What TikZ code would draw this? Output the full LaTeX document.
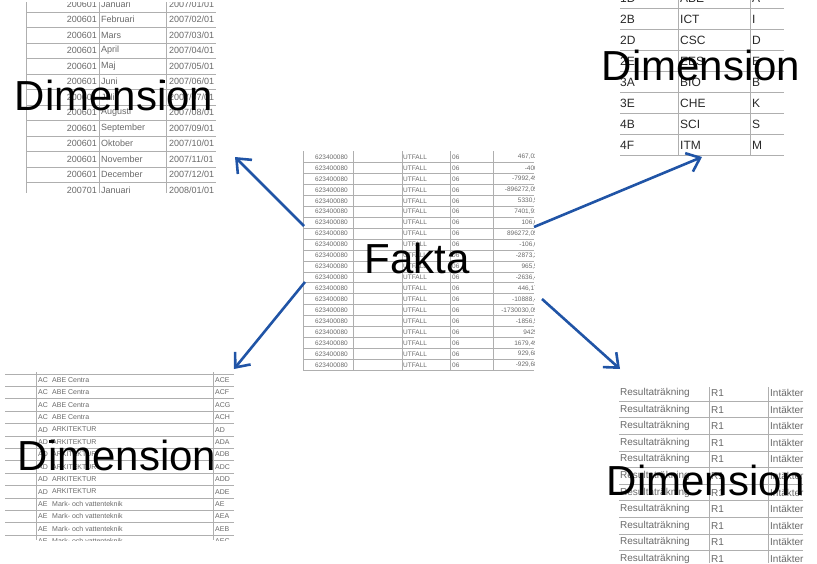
\documentclass[tikz,border=0pt]{standalone}
\usepackage{fontspec}
\setmainfont{Liberation Sans}
\usetikzlibrary{arrows.meta}
\definecolor{arrowblue}{RGB}{32,84,166}
\definecolor{gridgray}{RGB}{175,175,175}
\definecolor{txtgray}{RGB}{105,105,105}
\definecolor{txtdark}{RGB}{40,40,40}
\begin{document}
\begin{tikzpicture}[x=1pt,y=-1pt,
  biglabel/.style={font=\fontsize{42}{42}\selectfont, text=black, inner sep=0pt, anchor=base},
  conn/.style={draw=arrowblue, line width=2.6pt, -{Straight Barb[length=12pt,width=20pt,line width=2.6pt]}},
  grid/.style={draw=gridgray, line width=1pt},
  cellw/.style={anchor=west, inner sep=0pt},
  celle/.style={anchor=east, inner sep=0pt},
  tltxt/.style={font=\fontsize{9}{9}\selectfont, text=txtgray},
  trtxt/.style={font=\fontsize{12}{12}\selectfont, text=txtdark},
  fatxt/.style={font=\fontsize{6.5}{6.5}\selectfont, text=txtgray},
  bltxt/.style={font=\fontsize{7}{7}\selectfont, text=txtgray},
  brtxt/.style={font=\fontsize{10}{10}\selectfont, text=txtgray}]
\useasboundingbox (0,0) rectangle (817,563);

% ---------- top-left table ----------
\begin{scope}
\clip (26,2) rectangle (216,193);
\foreach \k in {0,...,11} \draw[grid] (26,{12.25+15.5*\k}) -- (216,{12.25+15.5*\k});
\foreach \x in {26,99,166} \draw[grid] (\x,0) -- (\x,193);
\foreach \m/\a/\d [count=\k from 0] in {Januari/200601/{2007/01/01},Februari/200601/{2007/02/01},Mars/200601/{2007/03/01},April/200601/{2007/04/01},Maj/200601/{2007/05/01},Juni/200601/{2007/06/01},Juli/200601/{2007/07/01},Augusti/200601/{2007/08/01},September/200601/{2007/09/01},Oktober/200601/{2007/10/01},November/200601/{2007/11/01},December/200601/{2007/12/01},Januari/200701/{2008/01/01}}{
  \node[tltxt,celle] (tla\k) at (97,{4+15.5*\k}) {\a};
  \node[tltxt,cellw] (tlb\k) at (101,{4+15.5*\k}) {\m};
  \node[tltxt,cellw] (tlc\k) at (169,{4+15.5*\k}) {\d};
}
\end{scope}
\fill[black] (162,79.5) rectangle (165,82.5);

% ---------- top-right table ----------
\begin{scope}
\clip (615,0) rectangle (790,160);
\foreach \k in {0,...,7} \draw[grid] (620,{8+21*\k}) -- (784,{8+21*\k});
\foreach \x in {678,750} \draw[grid] (\x,0) -- (\x,155);
\foreach \a/\b/\c [count=\k from 0] in {1D/ABE/A,2B/ICT/I,2D/CSC/D,2E/EES/E,3A/BIO/B,3E/CHE/K,4B/SCI/S,4F/ITM/M}{
  \node[trtxt,cellw] (tra\k) at (620,{-2+21*\k}) {\a};
  \node[trtxt,cellw] (trb\k) at (680,{-2+21*\k}) {\b};
  \node[trtxt,cellw] (trc\k) at (752,{-2+21*\k}) {\c};
}
\end{scope}

% ---------- centre (fact) table ----------
\begin{scope}
\clip (303,151) rectangle (534,371);
\foreach \k in {0,...,19} \draw[grid] (303,{162.5+10.95*\k}) -- (534,{162.5+10.95*\k});
\draw[grid] (303,151) -- (303,370) -- (534,370);
\foreach \x in {353,402,450,493} \draw[grid] (\x,151) -- (\x,370);
\foreach \v [count=\k from 0] in {467{,}02,-400,-7992{,}49,-896272{,}05,5330{,}5,7401{,}91,106{,}6,896272{,}05,-106{,}6,-2873{,}2,965{,}5,-2636{,}4,446{,}17,-10888{,}4,-1730030{,}05,-1856{,}5,9425,1679{,}49,929{,}68,-929{,}68}{
  \node[fatxt,cellw] (faa\k) at (315,{157+10.95*\k}) {623400080};
  \node[fatxt,cellw] (fab\k) at (403,{157+10.95*\k}) {UTFALL};
  \node[fatxt,cellw] (fac\k) at (452,{157+10.95*\k}) {06};
  \node[fatxt,celle] (fad\k) at (538,{157+10.95*\k}) {\v};
}
\end{scope}

% ---------- bottom-left table ----------
\begin{scope}
\clip (5,372) rectangle (234,540);
\foreach \k in {0,...,13} \draw[grid] (5,{374+12.4*\k}) -- (234,{374+12.4*\k});
\foreach \x in {36,213} \draw[grid] (\x,372) -- (\x,540);
\foreach \a/\b/\c [count=\k from 0] in {AC/ABE Centra/ACE,AC/ABE Centra/ACF,AC/ABE Centra/ACG,AC/ABE Centra/ACH,AD/ARKITEKTUR/AD,AD/ARKITEKTUR/ADA,AD/ARKITEKTUR/ADB,AD/ARKITEKTUR/ADC,AD/ARKITEKTUR/ADD,AD/ARKITEKTUR/ADE,AE/Mark- och vattenteknik/AE,AE/Mark- och vattenteknik/AEA,AE/Mark- och vattenteknik/AEB,AE/Mark- och vattenteknik/AEC}{
  \node[bltxt,cellw] (bla\k) at (38,{380+12.4*\k}) {\a};
  \node[bltxt,cellw] (blb\k) at (52,{380+12.4*\k}) {\b};
  \node[bltxt,cellw] (blc\k) at (215,{380+12.4*\k}) {\c};
}
\end{scope}
\fill[black] (48.5,439.5) rectangle (51.5,442.5);

% ---------- bottom-right table ----------
\begin{scope}
\clip (619,387) rectangle (803,563);
\foreach \k in {0,...,9} \draw[grid] (619,{401.3+16.6*\k}) -- (803,{401.3+16.6*\k});
\foreach \x in {709,768} \draw[grid] (\x,387) -- (\x,563);
\foreach \k in {0,...,10}{
  \node[brtxt,cellw] (bra\k) at (620,{393+16.6*\k}) {Resultaträkning};
  \node[brtxt,cellw] (brb\k) at (711,{393+16.6*\k}) {R1};
  \node[brtxt,cellw] (brc\k) at (770,{393+16.6*\k}) {Intäkter};
}
\end{scope}

% ---------- labels ----------
\node[biglabel] (dimTL) at (114,110) {Dimension};
\node[biglabel] (dimTR) at (701,80) {Dimension};
\node[biglabel] (dimBL) at (117,470) {Dimension};
\node[biglabel] (dimBR) at (706,495) {Dimension};
\node[biglabel] (fakta) at (417,273) {Fakta};

% ---------- connectors ----------
\coordinate (f1) at (304,226); \coordinate (d1) at (235,157);
\coordinate (f2) at (305,282); \coordinate (d3) at (234,369);
\coordinate (f3) at (534,227); \coordinate (d2) at (702,157);
\coordinate (f4) at (542,299); \coordinate (d4) at (620,369);
\draw[conn] (f1) -- (d1);
\draw[conn] (f2) -- (d3);
\draw[conn] (f3) -- (d2);
\draw[conn] (f4) -- (d4);
\end{tikzpicture}
\end{document}
